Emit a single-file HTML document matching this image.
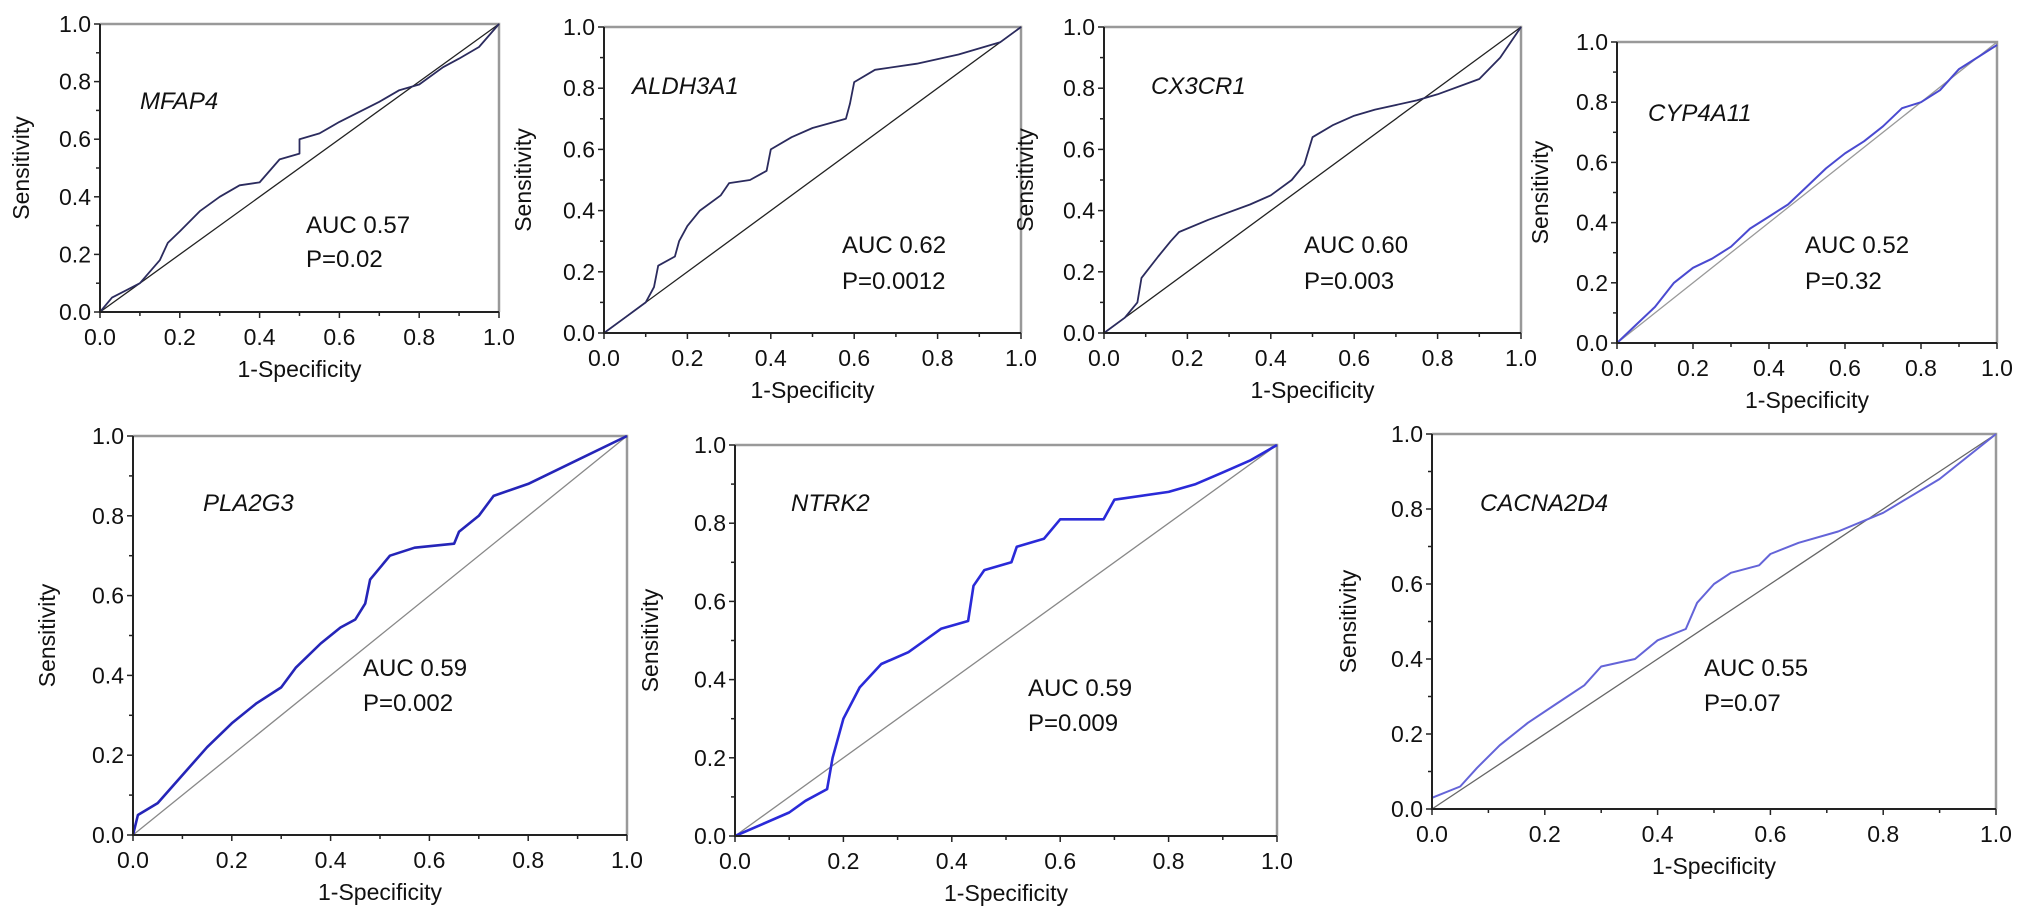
<!DOCTYPE html>
<html><head><meta charset="utf-8"><style>
html,body{margin:0;padding:0;background:#fff;}
svg{display:block;font-family:"Liberation Sans",sans-serif;}
</style></head><body>
<svg id="fig" width="2032" height="921" viewBox="0 0 2032 921" xmlns="http://www.w3.org/2000/svg"></svg>
<script>
const tickValues = [0, 0.2, 0.4, 0.6, 0.8, 1.0];
const tickLabels = ["0.0","0.2","0.4","0.6","0.8","1.0"];
const geneNames = ["MFAP4","ALDH3A1","CX3CR1","CYP4A11","PLA2G3","NTRK2","CACNA2D4"];
const aucLabels = ["AUC 0.57","AUC 0.62","AUC 0.60","AUC 0.52","AUC 0.59","AUC 0.59","AUC 0.55"];
const pLabels = ["P=0.02","P=0.0012","P=0.003","P=0.32","P=0.002","P=0.009","P=0.07"];
const mfap4X = [0,0.03,0.1,0.15,0.17,0.2,0.25,0.3,0.35,0.4,0.45,0.5,0.5,0.55,0.6,0.7,0.75,0.8,0.86,0.9,0.95,1];
const mfap4Y = [0,0.05,0.1,0.18,0.24,0.28,0.35,0.4,0.44,0.45,0.53,0.55,0.6,0.62,0.66,0.73,0.77,0.79,0.85,0.88,0.92,1];
const aldhX = [0,0.05,0.1,0.12,0.13,0.17,0.18,0.2,0.23,0.28,0.3,0.35,0.39,0.4,0.45,0.5,0.58,0.59,0.6,0.65,0.75,0.85,0.95,1];
const aldhY = [0,0.05,0.1,0.15,0.22,0.25,0.3,0.35,0.4,0.45,0.49,0.5,0.53,0.6,0.64,0.67,0.7,0.75,0.82,0.86,0.88,0.91,0.95,1];
const cx3X = [0,0.05,0.08,0.09,0.13,0.16,0.18,0.25,0.35,0.4,0.45,0.48,0.5,0.55,0.6,0.65,0.75,0.8,0.9,0.95,1];
const cx3Y = [0,0.05,0.1,0.18,0.25,0.3,0.33,0.37,0.42,0.45,0.5,0.55,0.64,0.68,0.71,0.73,0.76,0.78,0.83,0.9,1];
const cypX = [0,0.05,0.1,0.15,0.2,0.25,0.3,0.35,0.4,0.45,0.5,0.55,0.6,0.65,0.7,0.75,0.8,0.85,0.9,0.95,1];
const cypY = [0,0.06,0.12,0.2,0.25,0.28,0.32,0.38,0.42,0.46,0.52,0.58,0.63,0.67,0.72,0.78,0.8,0.84,0.91,0.95,0.99];
const plaX = [0,0.01,0.05,0.1,0.15,0.2,0.25,0.3,0.33,0.38,0.42,0.45,0.47,0.48,0.52,0.57,0.65,0.66,0.7,0.73,0.8,0.9,1];
const plaY = [0,0.05,0.08,0.15,0.22,0.28,0.33,0.37,0.42,0.48,0.52,0.54,0.58,0.64,0.7,0.72,0.73,0.76,0.8,0.85,0.88,0.94,1];
const ntrkX = [0,0.05,0.1,0.13,0.17,0.18,0.2,0.23,0.27,0.32,0.35,0.38,0.43,0.44,0.46,0.51,0.52,0.57,0.6,0.68,0.7,0.8,0.85,0.9,0.95,1];
const ntrkY = [0,0.03,0.06,0.09,0.12,0.2,0.3,0.38,0.44,0.47,0.5,0.53,0.55,0.64,0.68,0.7,0.74,0.76,0.81,0.81,0.86,0.88,0.9,0.93,0.96,1];
const cacX = [0,0.05,0.08,0.12,0.17,0.22,0.27,0.3,0.36,0.4,0.45,0.47,0.5,0.53,0.58,0.6,0.65,0.72,0.8,0.9,1];
const cacY = [0.03,0.06,0.11,0.17,0.23,0.28,0.33,0.38,0.4,0.45,0.48,0.55,0.6,0.63,0.65,0.68,0.71,0.74,0.79,0.88,1];
const seriesX = [mfap4X, aldhX, cx3X, cypX, plaX, ntrkX, cacX];
const seriesY = [mfap4Y, aldhY, cx3Y, cypY, plaY, ntrkY, cacY];

const layout = [
 {x0:100,x1:499,y0:312,y1:24, gx:140,gy:101, ax:306,ay:225,py:259, yt:23, col:"#2b2b5e", diag:"#222", lw:1.8},
 {x0:604,x1:1021,y0:333,y1:27, gx:632,gy:86, ax:842,ay:245,py:281, yt:525, col:"#2b2b5e", diag:"#222", lw:1.8},
 {x0:1104,x1:1521,y0:333,y1:27, gx:1151,gy:86, ax:1304,ay:245,py:281, yt:1027, col:"#2b2b5e", diag:"#222", lw:1.8},
 {x0:1617,x1:1997,y0:343,y1:42, gx:1648,gy:113, ax:1805,ay:245,py:281, yt:1542, col:"#4a4ad0", diag:"#999", lw:2},
 {x0:133,x1:627,y0:835,y1:436, gx:203,gy:503, ax:363,ay:668,py:703, yt:49, col:"#2525b8", diag:"#888", lw:2.6},
 {x0:735,x1:1277,y0:836,y1:445, gx:791,gy:503, ax:1028,ay:688,py:723, yt:652, col:"#2a2ad8", diag:"#888", lw:2.6},
 {x0:1432,x1:1996,y0:809,y1:434, gx:1480,gy:503, ax:1704,ay:668,py:703, yt:1350, col:"#6464d8", diag:"#666", lw:2}
];
const NS = "http://www.w3.org/2000/svg";
const svg = document.getElementById('fig');
function mk(tag, attrs, parent){const e=document.createElementNS(NS,tag);for(const k in attrs)e.setAttribute(k,attrs[k]);(parent||svg).appendChild(e);return e;}

layout.forEach((L,i)=>{
  const sx = v => L.x0 + v*(L.x1-L.x0);
  const sy = v => L.y0 - v*(L.y0-L.y1);
  const g = mk('g',{});
  
  
  const fr = mk('path',{d:`M${L.x0} ${L.y1} H${L.x1} V${L.y0}`,fill:'none',stroke:'#999','stroke-width':2.5},g);
  
  
  const dg = mk('line',{x1:sx(0),y1:sy(0),x2:sx(1),y2:sy(1),stroke:L.diag,'stroke-width':1.3},g);
  
  
  const xs=seriesX[i], ys=seriesY[i];
  let d='';
  for(let k=0;k<xs.length;k++){
    d += (k===0?'M':' L') + sx(xs[k]).toFixed(1) + ' ' + sy(ys[k]).toFixed(1);
  }
  const cv = mk('path',{d:d,fill:'none',stroke:L.col,'stroke-width':L.lw,'stroke-linejoin':'round'},g);
  
  
  const ax = mk('path',{d:`M${L.x0} ${L.y1} V${L.y0} H${L.x1}`,fill:'none',stroke:'#222','stroke-width':2},g);
  
  
  for(let t=0;t<=10;t++){
    const v=t/10, len = t%2===0?6:4;
    mk('line',{x1:sx(v),y1:L.y0,x2:sx(v),y2:L.y0+len,stroke:'#222','stroke-width':1.5},g);
    mk('line',{x1:L.x0,y1:sy(v),x2:L.x0-len,y2:sy(v),stroke:'#222','stroke-width':1.5},g);
  }
  tickValues.forEach((v,k)=>{
    const tx = mk('text',{x:sx(v),y:L.y0+33,'font-size':23,'text-anchor':'middle',fill:'#111'},g);
    tx.textContent = tickLabels[k];
    
    
    const ty = mk('text',{x:L.x0-9,y:sy(v)+8,'font-size':23,'text-anchor':'end',fill:'#111'},g);
    ty.textContent = tickLabels[k];
    
    
  });
  const xt = mk('text',{x:(L.x0+L.x1)/2,y:L.y0+65,'font-size':23,'text-anchor':'middle',fill:'#111'},g);
  xt.textContent='1-Specificity';
  
  
  const ymid=(L.y0+L.y1)/2;
  const yt = mk('text',{x:L.yt,y:ymid,'font-size':23,'text-anchor':'middle',fill:'#111',transform:`rotate(-90 ${L.yt} ${ymid})`,'dominant-baseline':'middle'},g);
  yt.textContent='Sensitivity';
  
  
  const gn = mk('text',{x:L.gx,y:L.gy+8,'font-size':24,'font-style':'italic',fill:'#111'},g);
  gn.textContent=geneNames[i];
  
  
  const au = mk('text',{x:L.ax,y:L.ay+8,'font-size':24,fill:'#111'},g);
  au.textContent=aucLabels[i];
  
  
  const pv = mk('text',{x:L.ax,y:L.py+8,'font-size':24,fill:'#111'},g);
  pv.textContent=pLabels[i];
  
  
});
</script>
</body></html>
